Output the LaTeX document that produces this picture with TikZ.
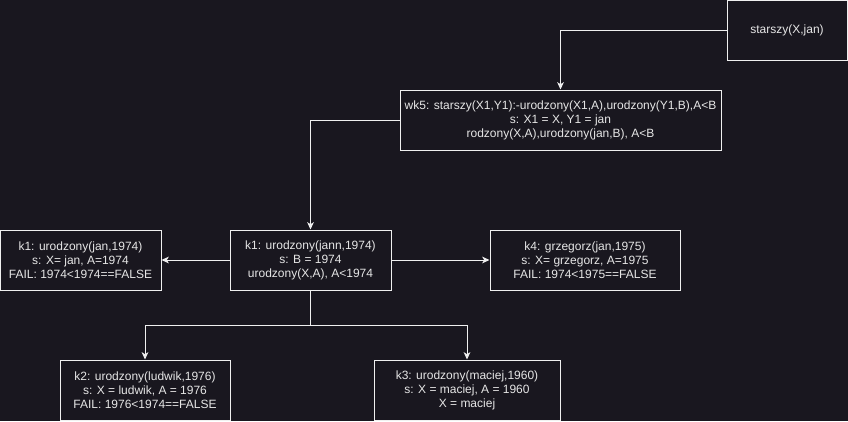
\documentclass[tikz,border=0pt]{standalone}
\usepackage{fontspec}
\setmainfont{Liberation Sans}
\usetikzlibrary{arrows.meta}
\definecolor{bg}{HTML}{19171F}
\definecolor{ln}{HTML}{F0F0F0}
\definecolor{tx}{HTML}{E6E6E6}
\begin{document}
\begin{tikzpicture}[x=0.75pt,y=-0.75pt,
  box/.style={draw=ln,line width=0.75pt,fill=bg,text=tx,align=center,inner sep=0pt,font=\fontsize{9}{10.5}\selectfont},
  conn/.style={draw=ln,line width=0.75pt,-{Stealth[length=5.5pt,width=5pt,inset=1.5pt]}}]
\fill[bg] (0,0) rectangle (848,421);
\useasboundingbox (0,0) rectangle (848,421);
\node[box,minimum width=120*0.75pt,minimum height=60*0.75pt] (st) at (787,30) {starszy(X,jan)};
\node[box,minimum width=321*0.75pt,minimum height=60*0.75pt] (wk) at (560.5,120) {wk5: starszy(X1,Y1):-urodzony(X1,A),urodzony(Y1,B),A<B\\s: X1 = X, Y1 = jan\\rodzony(X,A),urodzony(jan,B), A<B};
\node[box,minimum width=161*0.75pt,minimum height=60*0.75pt] (k1m) at (310.5,260) {k1: urodzony(jann,1974)\\s: B = 1974\\urodzony(X,A), A<1974};
\node[box,minimum width=161*0.75pt,minimum height=60*0.75pt] (k1l) at (80.5,260) {k1: urodzony(jan,1974)\\s: X= jan, A=1974\\FAIL: 1974<1974==FALSE};
\node[box,minimum width=190*0.75pt,minimum height=60*0.75pt] (k4) at (585,260) {k4: grzegorz(jan,1975)\\s: X= grzegorz, A=1975\\FAIL: 1974<1975==FALSE};
\node[box,minimum width=170*0.75pt,minimum height=60*0.75pt] (k2) at (145,390) {k2: urodzony(ludwik,1976)\\s: X = ludwik, A = 1976\\FAIL: 1976<1974==FALSE};
\node[box,minimum width=186*0.75pt,minimum height=60*0.75pt] (k3) at (467,390) {k3: urodzony(maciej,1960)\\s: X = maciej, A = 1960\\X = maciej};
\draw[conn] (st.west) -| (wk.north);
\draw[conn] (wk.west) -| (k1m.north);
\draw[conn] (k1m.west) -- (k1l.east);
\draw[conn] (k1m.east) -- (k4.west);
\coordinate (j) at (310.5,325);
\draw[conn] (k1m.south) -- (j) -| (k2.north);
\draw[conn] (j) -| (k3.north);
\end{tikzpicture}
\end{document}
